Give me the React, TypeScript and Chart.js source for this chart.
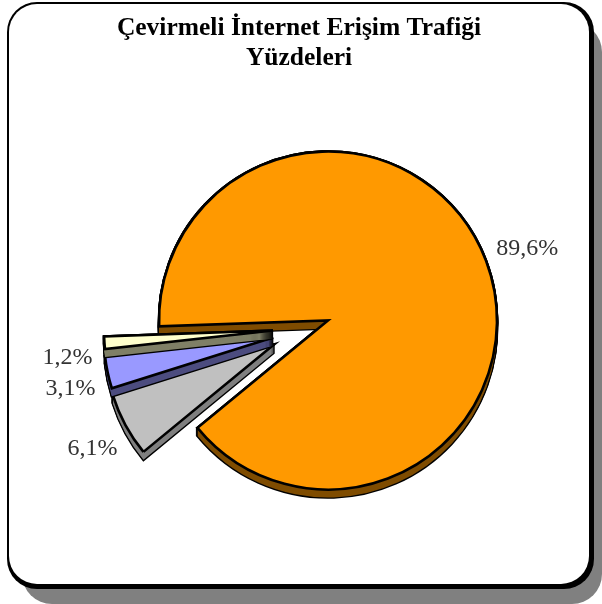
import React, { useEffect, useRef } from "react";
import { Chart, registerables } from "chart.js";

Chart.register(...registerables);

const titleLines = ["Çevirmeli İnternet Erişim Trafiği", "Yüzdeleri"];
const categories = ["A", "B", "C", "D"];
const values = [89.6, 6.1, 3.1, 1.2];
const valueLabels = ["89,6%", "6,1%", "3,1%", "1,2%"];
const faceColors = ["#ff9900", "#c0c0c0", "#9999ff", "#ffffcc"];
const sideColors = ["#7f4c00", "#7f7f7f", "#4c4c7f", "#7f7f66"];

const explodeX = [0, -54, -55, -55];
const explodeY = [0, 24, 17, 10];
const labelDx = [1, 5, 5, 6];
const labelDy = [3, 3, 7, 12];

const DEPTH = 8;
const LINE = 2.6;
const FONT = '"Liberation Serif", serif';

function rr(ctx: CanvasRenderingContext2D, x: number, y: number, w: number, h: number, r: number) {
  ctx.beginPath();
  ctx.roundRect(x, y, w, h, r);
}

const framePlugin = {
  id: "frame",
  beforeDraw(chart: any) {
    const ctx: CanvasRenderingContext2D = chart.ctx;
    ctx.save();
    ctx.fillStyle = "#ffffff";
    ctx.fillRect(0, 0, chart.width, chart.height);
    ctx.fillStyle = "#808080";
    rr(ctx, 22, 22, 580, 582, 30);
    ctx.fill();
    ctx.fillStyle = "#000000";
    rr(ctx, 7, 2, 587, 587, 30);
    ctx.fill();
    ctx.fillStyle = "#ffffff";
    rr(ctx, 9, 4, 580, 580, 28);
    ctx.fill();
    ctx.fillStyle = "#000000";
    ctx.font = "bold 25.5px " + FONT;
    ctx.textAlign = "center";
    ctx.textBaseline = "middle";
    titleLines.forEach((line, i) => ctx.fillText(line, 299, 28 + i * 30));
    ctx.restore();
  },
};

const explodePlugin = {
  id: "explode3d",
  afterDatasetsUpdate(chart: any) {
    chart.getDatasetMeta(0).data.forEach((arc: any, i: number) => {
      arc.x += explodeX[i];
      arc.y += explodeY[i];
    });
  },
  afterDatasetsDraw(chart: any) {
    const ctx: CanvasRenderingContext2D = chart.ctx;
    const arcs = chart.getDatasetMeta(0).data;
    ctx.save();
    ctx.miterLimit = 4;
    arcs.forEach((arc: any, i: number) => {
      const path = (dy: number) => {
        ctx.beginPath();
        ctx.moveTo(arc.x, arc.y + dy);
        ctx.arc(arc.x, arc.y + dy, arc.outerRadius, arc.startAngle, arc.endAngle);
        ctx.closePath();
      };
      ctx.save();
      ctx.lineJoin = "miter";
      ctx.strokeStyle = "#000000";
      ctx.lineWidth = LINE;
      for (let d = 0; d <= DEPTH; d++) {
        path(d);
        ctx.stroke();
      }
      ctx.fillStyle = sideColors[i];
      for (let d = 0; d <= DEPTH; d++) {
        path(d);
        ctx.fill();
      }
      ctx.restore();
      arc.draw(ctx);
    });
    ctx.restore();
    ctx.save();
    ctx.font = "24px " + FONT;
    ctx.fillStyle = "#333333";
    ctx.textAlign = "center";
    ctx.textBaseline = "middle";
    arcs.forEach((arc: any, i: number) => {
      const mid = (arc.startAngle + arc.endAngle) / 2;
      const r = arc.outerRadius + 43;
      ctx.fillText(
        valueLabels[i],
        arc.x + Math.cos(mid) * r + labelDx[i],
        arc.y + Math.sin(mid) * r + labelDy[i]
      );
    });
    ctx.restore();
  },
};

export default function App() {
  const ref = useRef<HTMLCanvasElement>(null);
  useEffect(() => {
    document.body.style.margin = "0";
    const chart = new Chart(ref.current!, {
      type: "pie",
      data: {
        labels: categories,
        datasets: [
          {
            data: values,
            backgroundColor: faceColors,
            borderColor: "#000000",
            borderWidth: LINE,
            borderJoinStyle: "miter",
          } as any,
        ],
      },
      options: {
        animation: false,
        responsive: false,
        rotation: 268,
        radius: 169,
        layout: { padding: { left: 54, right: 0, top: 37, bottom: 0 } },
        plugins: {
          legend: { display: false },
          tooltip: { enabled: false },
          title: { display: false },
        },
      } as any,
      plugins: [framePlugin, explodePlugin],
    });
    return () => chart.destroy();
  }, []);
  return <canvas ref={ref} width={602} height={604} style={{ display: "block" }} />;
}
